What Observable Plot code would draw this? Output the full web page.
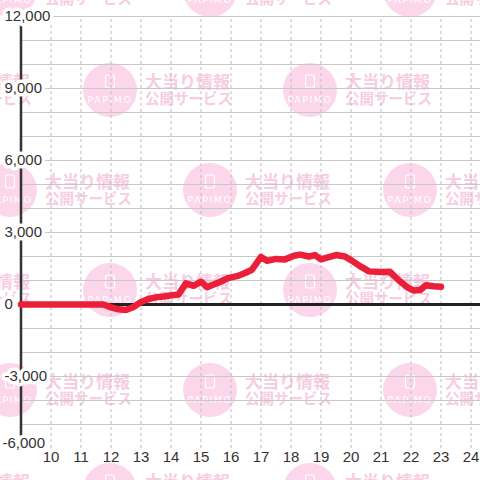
<!DOCTYPE html>
<html><head><meta charset="utf-8">
<script src="https://cdn.jsdelivr.net/npm/d3@7"></script>
<script src="https://cdn.jsdelivr.net/npm/@observablehq/plot@0.6"></script>
<style>
body{margin:0;background:#fff;}
#wrap{position:relative;width:480px;height:480px;overflow:hidden;}
#wm,#chart{position:absolute;left:0;top:0;}
</style></head><body>
<div id="wrap"><svg id="wm" width="480" height="480"></svg><div id="chart"></div></div>
<script>
// time of day (hours) and cumulative difference (medals)
const hours  = [9.0, 11.75, 12.0, 12.25, 12.5, 12.75, 13.0, 13.25, 13.5, 13.75, 14.0, 14.25, 14.5, 14.75, 15.0, 15.2, 15.4, 15.65, 15.9, 16.2, 16.45, 16.7, 17.0, 17.2, 17.5, 17.8, 18.1, 18.3, 18.6, 18.8, 19.0, 19.2, 19.5, 19.8, 20.0, 20.3, 20.6, 21.0, 21.3, 21.6, 21.9, 22.1, 22.3, 22.5, 22.75, 23.0];
const values = [0, 0, -120, -200, -230, -100, 100, 230, 300, 330, 380, 420, 880, 780, 950, 720, 820, 950, 1100, 1180, 1300, 1450, 1980, 1820, 1900, 1880, 2030, 2080, 2000, 2060, 1880, 1950, 2060, 2000, 1850, 1600, 1380, 1350, 1360, 1000, 700, 580, 600, 800, 760, 740];
const xTicks = [10, 11, 12, 13, 14, 15, 16, 17, 18, 19, 20, 21, 22, 23, 24];
const yTicks = [-6000, -3000, 0, 3000, 6000, 9000, 12000];
const yGrid  = [-5000, -4000, -3000, -2000, -1000, 1000, 2000, 3000, 4000, 5000, 6000, 7000, 8000, 9000, 10000, 11000, 12000];
const wmLine1 = "大当り情報";
const wmLine2 = "公開サービス";
const wmLogo = "PAPIMO";

const data = hours.map((h, i) => ({h, v: values[i]}));
const fmt = d => d.toLocaleString("en-US");

// background watermark
const wm = d3.select("#wm");
[-10, 90, 190, 290, 390, 490].forEach((cy, r) => {
  const off = r % 2 === 0 ? 10 : 110;
  for (let cx = off - 200; cx < 600; cx += 200) {
    const g = wm.append("g");
    g.append("circle").attr("cx", cx).attr("cy", cy).attr("r", 27).attr("fill", "#fcd6eb");
    g.append("rect").attr("x", cx - 4.5).attr("y", cy - 15).attr("width", 9).attr("height", 13).attr("rx", 2)
      .attr("fill", "none").attr("stroke", "#fff").attr("stroke-width", 1.2);
    g.append("text").attr("x", cx).attr("y", cy + 13).attr("text-anchor", "middle")
      .attr("fill", "#fff").attr("font-family", "DejaVu Sans").attr("font-size", 9.5).attr("letter-spacing", 1.5).text(wmLogo);
    g.append("text").attr("x", cx + 35).attr("y", cy - 10).attr("dominant-baseline", "central")
      .attr("fill", "#f7cde2").attr("font-family", "Noto Sans CJK JP").attr("font-weight", "bold").attr("font-size", 17).text(wmLine1);
    g.append("text").attr("x", cx + 35).attr("y", cy + 7).attr("dominant-baseline", "central")
      .attr("fill", "#f7cde2").attr("font-family", "Noto Sans CJK JP").attr("font-weight", "bold").attr("font-size", 14.5).text(wmLine2);
  }
});

const chart = Plot.plot({
  width: 480, height: 480,
  marginLeft: 0, marginRight: 0, marginTop: 0, marginBottom: 0,
  style: {background: "transparent", fontFamily: "Liberation Sans, Arial, sans-serif", fontSize: "15px"},
  x: {domain: [10 - 50.5 / 30, 10 + 429.5 / 30], range: [0, 480], axis: null},
  y: {domain: [-7333.33, 12666.67], range: [480, 0], axis: null},
  marks: [
    Plot.ruleY(yGrid, {x1: 9, x2: 24.5, stroke: "#c8c8c8", strokeWidth: 1}),
    Plot.ruleX(xTicks, {y1: -6000, y2: 12000, stroke: "#bdbdbd", strokeWidth: 1, strokeDasharray: "3,3"}),
    Plot.ruleY([0], {x1: 9, x2: 24.5, stroke: "#222", strokeWidth: 3}),
    Plot.ruleX([9], {y1: -6000, y2: 12000, stroke: "#333", strokeWidth: 2.5}),
    Plot.line(data, {x: "h", y: "v", stroke: "#ec1f3a", strokeWidth: 6.5, strokeLinejoin: "round"}),
    Plot.text(yTicks.filter(d => d !== -6000), {y: d => d, frameAnchor: "left", dx: 4, textAnchor: "start", text: fmt,
      fill: "#333", stroke: "white", strokeWidth: 7, fontSize: 15}),
    Plot.text(yTicks.filter(d => d === -6000), {y: d => d, frameAnchor: "left", dx: 2, dy: -5, textAnchor: "start", text: fmt,
      fill: "#333", stroke: "white", strokeWidth: 7, fontSize: 15}),
    Plot.text(xTicks, {x: d => d, frameAnchor: "bottom", dy: -19, text: d => String(d), fill: "#333", fontSize: 15})
  ]
});
document.getElementById("chart").appendChild(chart);
</script>
</body></html>
